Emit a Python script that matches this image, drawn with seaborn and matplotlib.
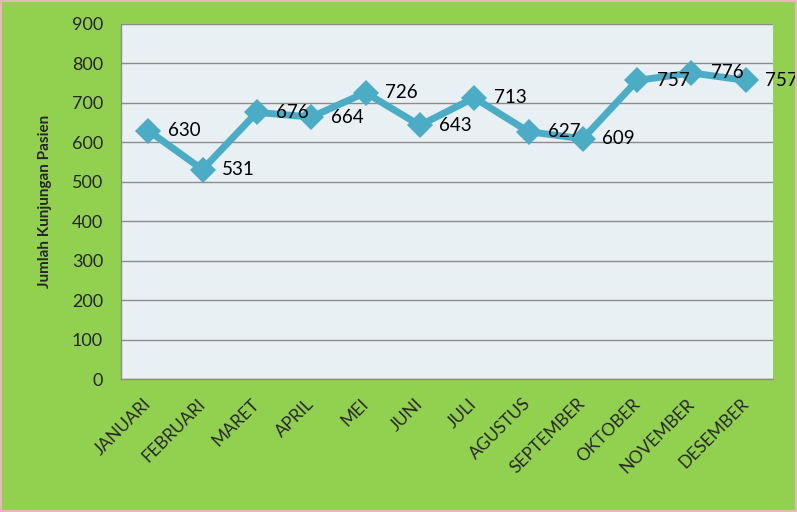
import matplotlib.pyplot as plt
import seaborn as sns
import pandas as pd
from matplotlib.patches import Rectangle

months = ["JANUARI", "FEBRUARI", "MARET", "APRIL", "MEI", "JUNI", "JULI",
          "AGUSTUS", "SEPTEMBER", "OKTOBER", "NOVEMBER", "DESEMBER"]
kunjungan = [630, 531, 676, 664, 726, 643, 713, 627, 609, 757, 776, 757]
y_ticks = [0, 100, 200, 300, 400, 500, 600, 700, 800, 900]

df = pd.DataFrame({"Bulan": months, "Kunjungan": kunjungan})

sns.set_theme(style="white")
plt.rcParams['font.family'] = ['Lato', 'DejaVu Sans']

fig = plt.figure(figsize=(7.97, 5.12), dpi=100, facecolor="#92D050")
ax = fig.add_axes([121 / 797, 1 - 379 / 512, (773 - 121) / 797, (379 - 24) / 512])
ax.set_facecolor("#E9F0F4")

sns.lineplot(data=df, x="Bulan", y="Kunjungan", sort=False, ax=ax,
             color="#4BACC6", linewidth=5, marker="D", markersize=13,
             markeredgewidth=0)

for i, v in enumerate(kunjungan):
    ax.annotate(str(v), (i, v), xytext=(14, 0), textcoords="offset points",
                ha="left", va="center", fontsize=13.5, color="black")

ax.set_xlim(-0.5, len(months) - 0.5)
ax.set_ylim(0, 900)
ax.set_yticks(y_ticks)
ax.yaxis.grid(True, color="#8C8C8C", linewidth=1)
ax.set_axisbelow(True)
for side in ["top", "right"]:
    ax.spines[side].set_visible(False)
for side in ["left", "bottom"]:
    ax.spines[side].set_color("#8C8C8C")
    ax.spines[side].set_linewidth(1)

ax.tick_params(axis="y", length=0, pad=13, labelsize=13)
ax.tick_params(axis="x", length=0, pad=16, labelsize=12.5)
plt.setp(ax.get_xticklabels(), rotation=45, ha="right", va="center",
         rotation_mode="anchor")

ax.set_xlabel("")
ax.set_ylabel("Jumlah Kunjungan Pasien", fontsize=11, fontweight="bold", labelpad=14)

fig.patches.append(Rectangle((0, 0), 1, 1, transform=fig.transFigure,
                             fill=False, edgecolor="#E6B9B8", linewidth=3))

fig.savefig("out.png", dpi=100, facecolor=fig.get_facecolor())
